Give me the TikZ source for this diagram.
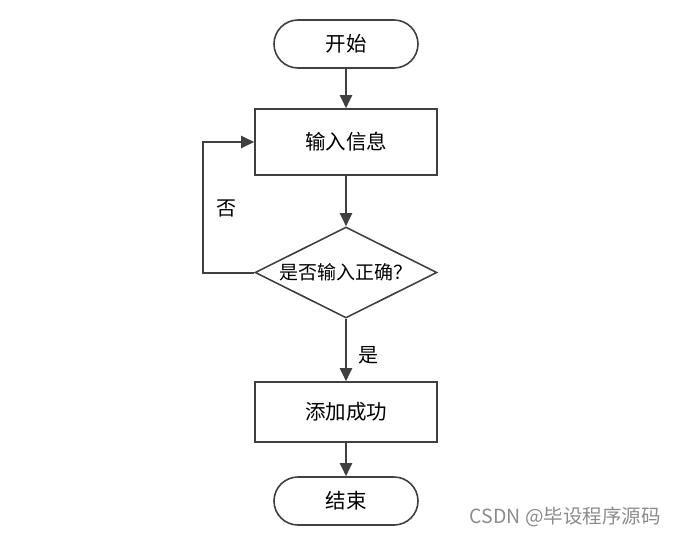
\documentclass[tikz,border=0pt]{standalone}
\usepackage{fontspec}
\newfontfamily\cjk{Noto Sans CJK SC}
\usetikzlibrary{arrows.meta,shapes.geometric}
\definecolor{lc}{HTML}{404040}
\tikzset{
  x=1pt,y=-1pt,
  base/.style={draw=lc,line width=1.6pt,font=\cjk\fontsize{20.5}{24}\selectfont,text=black,inner sep=0pt},
  term/.style={base,rounded corners=24pt,minimum width=144pt,minimum height=48pt},
  proc/.style={base,minimum width=182pt,minimum height=66pt},
  dec/.style={base,diamond,aspect=2,minimum width=182pt,minimum height=91pt,font=\cjk\fontsize{19}{22}\selectfont},
  conn/.style={draw=lc,line width=2pt,-{Triangle[length=13pt,width=12pt]}},
  lab/.style={font=\cjk\fontsize{20}{24}\selectfont,inner sep=0pt}
}
\begin{document}
\begin{tikzpicture}
\useasboundingbox (0,0) rectangle (675,536);
\node[term] (start) at (346,44) {开始};
\node[proc,minimum height=66pt] (input) at (346,142) {输入信息};
\node[dec,shape aspect=2,minimum width=182pt,minimum height=91pt] (check) at (346,272.5) {是否输入正确？};
\node[proc,minimum height=60pt] (add) at (346,412) {添加成功};
\node[term] (end) at (346,501) {结束};
\coordinate (lp) at (203,272.5);
\coordinate (lq) at (203,142);
\draw[conn] (start) -- (input);
\draw[conn] (input) -- (check);
\draw[conn] (check) -- (add);
\draw[conn] (add) -- (end);
\draw[conn] (check.west) -- (lp) -- (lq) -- (input.west);
\node[lab] (no) at (226,208) {否};
\node[lab] (yes) at (368,355) {是};
\node[font=\cjk\fontsize{19.5}{22}\selectfont,text=black!45,anchor=east,inner sep=0pt] (wm) at (661,517) {CSDN @毕设程序源码};
\end{tikzpicture}
\end{document}
